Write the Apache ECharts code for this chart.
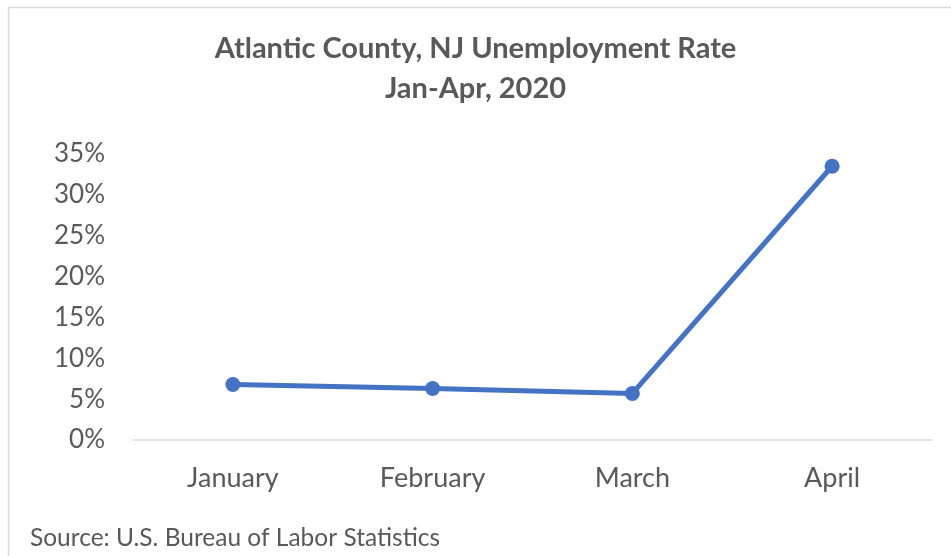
<!DOCTYPE html>
<html><head><meta charset="utf-8">
<script src="https://cdn.jsdelivr.net/npm/echarts@6/dist/echarts.min.js"></script>
<style>html,body{margin:0;padding:0;background:#fff}#c{width:951px;height:556px}</style>
</head><body><div id="c"></div>
<script>
const titleLines = ['Atlantic County, NJ Unemployment Rate', 'Jan-Apr, 2020'];
const categories = ['January', 'February', 'March', 'April'];
const rates = [6.8, 6.3, 5.7, 33.5];
const yTicks = { min: 0, max: 35, interval: 5 };
const sourceNote = 'Source: U.S. Bureau of Labor Statistics';

const FONT = 'Lato, "Open Sans", sans-serif';
const chart = echarts.init(document.getElementById('c'), null, { renderer: 'canvas' });
chart.setOption({
  animation: false,
  backgroundColor: '#fff',
  title: {
    text: titleLines.join('\n'),
    left: 'center', top: 24,
    textStyle: { fontFamily: FONT, fontSize: 29, fontWeight: 'bold', color: '#595959', lineHeight: 40 }
  },
  grid: { left: 133, right: 19, top: 154, bottom: 116 },
  xAxis: {
    type: 'category', data: categories, boundaryGap: true,
    axisLine: { show: true, lineStyle: { color: '#d9d9d9', width: 1.5 } },
    axisTick: { show: false },
    axisLabel: { fontFamily: FONT, fontSize: 27, color: '#595959', margin: 25 }
  },
  yAxis: {
    type: 'value', min: yTicks.min, max: yTicks.max, interval: yTicks.interval,
    axisLine: { show: false }, axisTick: { show: false },
    splitLine: { show: false },
    axisLabel: { fontFamily: FONT, fontSize: 26, color: '#595959', margin: 28, formatter: v => v + '%' }
  },
  series: [{
    type: 'line', data: rates,
    symbol: 'circle', symbolSize: 15,
    lineStyle: { color: '#4472C4', width: 5 },
    itemStyle: { color: '#4472C4' }
  }],
  graphic: [
    { type: 'line', shape: { x1: 8.5, y1: 7, x2: 8.5, y2: 556 }, style: { stroke: '#d9d9d9', lineWidth: 1.5 } },
    { type: 'line', shape: { x1: 8, y1: 7.5, x2: 951, y2: 7.5 }, style: { stroke: '#d9d9d9', lineWidth: 1.5 } },
    { type: 'text', left: 30, top: 526, style: { text: sourceNote, font: '24.5px ' + FONT, fill: '#595959' } }
  ]
});
</script></body></html>
